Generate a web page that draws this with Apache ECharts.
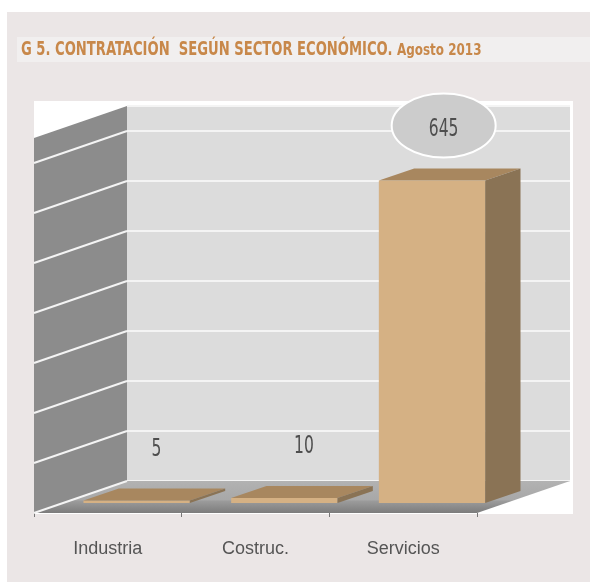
<!DOCTYPE html>
<html><head><meta charset="utf-8">
<script src="https://cdn.jsdelivr.net/npm/echarts@6/dist/echarts.min.js"></script>
<style>html,body{margin:0;padding:0;background:#fff;}#c{position:absolute;left:0;top:0;width:590px;height:582px;}</style>
</head><body><div id="c"></div>
<script>
const titleMain = 'G 5. CONTRATACIÓN  SEGÚN SECTOR ECONÓMICO.';
const titleSub = 'Agosto 2013';
const categories = ['Industria', 'Costruc.', 'Servicios'];
const values = [5, 10, 645];
const calloutCategory = 'Servicios';
const yMax = 750;
const yInterval = 100;
const wallTicks = [0, 100, 200, 300, 400, 500, 600, 700];

const COND = "'DejaVu Sans Condensed', 'Liberation Sans Narrow', 'Liberation Sans', sans-serif";
const DX = 93, DY = -32;         // depth vector of the 3D box
const F1 = 0.31, F2 = 0.69;      // bar depth position (fraction of depth)
const BAR_W = 0.72;              // bar width, fraction of band

const chart = echarts.init(document.getElementById('c'), null, {renderer: 'canvas'});

function renderScene(params, api) {
  const cs = params.coordSys;
  const x0 = cs.x, x1 = cs.x + cs.width;
  const yb = api.coord([0, 0])[1];
  const yt = api.coord([0, yMax])[1];
  const children = [];
  children.push({type: 'polygon', shape: {points: [[x0, yt], [x0 + DX, yt + DY], [x0 + DX, yb + DY], [x0, yb]]},
    style: {fill: '#8C8C8C'}});
  children.push({type: 'polygon', shape: {points: [[x0, yb], [x1, yb], [x1 + DX, yb + DY], [x0 + DX, yb + DY]]},
    style: {fill: new echarts.graphic.LinearGradient(0, 1, 0, 0, [
      {offset: 0, color: '#7C7C7C'}, {offset: 0.36, color: '#9A9A9A'},
      {offset: 0.42, color: '#A8A8A8'}, {offset: 1, color: '#B2B2B2'}])}});
  wallTicks.forEach(v => {
    const y = api.coord([0, v])[1];
    children.push({type: 'line', shape: {x1: x0, y1: y, x2: x0 + DX, y2: y + DY},
      style: {stroke: '#F4F4F4', lineWidth: 2}});
  });
  return {type: 'group', children};
}

function renderBar(params, api) {
  const i = api.value(0), v = api.value(1);
  const base = api.coord([i, 0]);
  const top = api.coord([i, v]);
  const bw = api.size([1, 0])[0] * BAR_W;
  const dd = DX * (F2 - F1), ddy = DY * (F2 - F1);
  const fx = base[0] - bw / 2 + DX * F1;
  const fy = base[1] + DY * F1;
  const ty = top[1] + DY * F1;
  const children = [
    {type: 'rect', shape: {x: fx, y: ty, width: bw, height: Math.max(fy - ty, 1)}, style: {fill: '#D5B184'}},
    {type: 'polygon', shape: {points: [[fx, ty], [fx + bw, ty], [fx + bw + dd, ty + ddy], [fx + dd, ty + ddy]]},
      style: {fill: '#A8875F'}},
    {type: 'polygon', shape: {points: [[fx + bw, ty], [fx + bw + dd, ty + ddy], [fx + bw + dd, fy + ddy], [fx + bw, fy]]},
      style: {fill: '#8A7355'}}
  ];
  const lx = fx + bw / 2 + dd / 2;
  const ly = ty - 51;
  if (categories[i] === calloutCategory) {
    children.push({type: 'ellipse', shape: {cx: lx - 6, cy: ly - 4, rx: 52, ry: 32},
      style: {fill: '#CCCCCC', stroke: '#FFFFFF', lineWidth: 2}});
  }
  children.push({type: 'text', x: lx + (categories[i] === calloutCategory ? -6 : 2), y: ly, scaleX: 0.72,
    style: {text: String(v), fontFamily: COND, fontSize: 24, fill: '#4E4E4E', align: 'center', verticalAlign: 'middle'}});
  return {type: 'group', children};
}

const option = {
  backgroundColor: 'transparent',
  animation: false,
  graphic: [
    {type: 'rect', z: -10, shape: {x: 7, y: 12, width: 583, height: 570}, style: {fill: '#EBE6E6'}},
    {type: 'rect', z: -9, shape: {x: 17, y: 37, width: 573, height: 25}, style: {fill: '#F1EFEF'}},
    {type: 'rect', z: -9, shape: {x: 34, y: 101, width: 539, height: 413}, style: {fill: '#FFFFFF'}},
    {type: 'text', z: 5, x: 21, y: 40, scaleX: 0.73,
      style: {text: titleMain, fontFamily: COND, fontWeight: 'bold', fontSize: 20, fill: '#C8884A', verticalAlign: 'top'}},
    {type: 'text', z: 5, x: 397, y: 43, scaleX: 0.83,
      style: {text: titleSub, fontFamily: COND, fontWeight: 'bold', fontSize: 16, fill: '#C8884A', verticalAlign: 'top'}}
  ],
  grid: [
    {left: 34, top: 138, width: 443, height: 375},
    {left: 34 + DX, top: 138 + DY, width: 443, height: 375, show: true, backgroundColor: '#DCDCDC', borderWidth: 0}
  ],
  xAxis: [
    {type: 'category', gridIndex: 0, data: categories,
      axisLine: {show: false},
      axisTick: {show: true, length: 4, lineStyle: {color: '#777'}},
      axisLabel: {margin: 27, fontSize: 18, color: '#555', fontFamily: "'Liberation Sans', Arial, sans-serif"}},
    {type: 'category', gridIndex: 1, data: categories, show: false}
  ],
  yAxis: [
    {type: 'value', gridIndex: 0, min: 0, max: yMax, interval: yInterval, show: false},
    {type: 'value', gridIndex: 1, min: 0, max: yMax, interval: yInterval,
      axisLine: {show: false}, axisTick: {show: false}, axisLabel: {show: false},
      splitLine: {show: true, lineStyle: {color: '#F4F4F4', width: 2}}}
  ],
  series: [
    {type: 'custom', xAxisIndex: 0, yAxisIndex: 0, z: 2, clip: false, data: [[0, 0]], renderItem: renderScene, silent: true},
    {type: 'custom', xAxisIndex: 0, yAxisIndex: 0, z: 3, clip: false,
      data: values.map((v, i) => [i, v]), renderItem: renderBar, silent: true}
  ]
};
chart.setOption(option);
</script></body></html>
